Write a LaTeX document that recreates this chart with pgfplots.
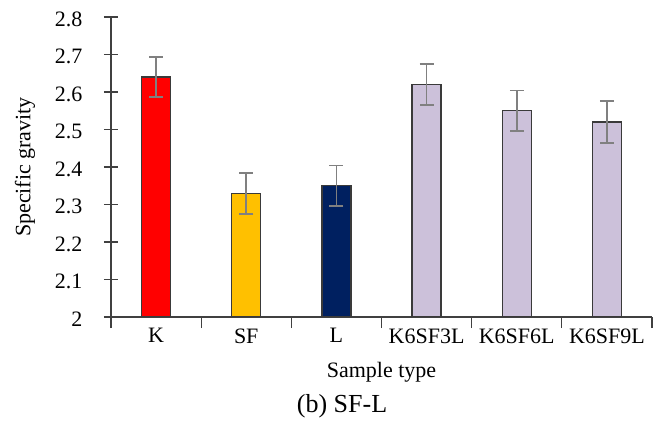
\documentclass[border=0pt]{standalone}
\usepackage{fontspec}
\setmainfont{Liberation Serif}
\usepackage{pgfplots}
\pgfplotsset{compat=1.18}
\definecolor{kred}{HTML}{FF0000}
\definecolor{sfgold}{HTML}{FFC000}
\definecolor{lnavy}{HTML}{002060}
\definecolor{lav}{HTML}{CCC1DA}
\definecolor{axgray}{HTML}{404040}
\definecolor{errgray}{HTML}{808080}
\definecolor{bardraw}{HTML}{3A3A3A}
\newcommand{\bigf}{\fontsize{22bp}{26bp}\selectfont}
\begin{document}
\begin{tikzpicture}[font=\bigf]
\begin{axis}[
  scale only axis, width=541bp, height=300bp,
  xmin=-0.5, xmax=5.5, ymin=2, ymax=2.8,
  axis x line=bottom, axis y line=left,
  axis line style={-, draw=axgray, line width=1.3bp},
  ytick={2,2.1,2.2,2.3,2.4,2.5,2.6,2.7,2.8},
  xtick={0,1,2,3,4,5},
  xticklabels={K,SF,L,K6SF3L,K6SF6L,K6SF9L},
  minor xtick={-0.5,0.5,1.5,2.5,3.5,4.5,5.5},
  tick align=center,
  major tick length=14bp, minor tick length=11bp,
  tick style={draw=axgray, line width=1.3bp},
  major x tick style={draw=none},
  /pgf/number format/assume math mode=true,
  every tick label/.append style={font=\bigf},
  every axis label/.append style={font=\bigf},
  y tick label style={xshift=-18bp, yshift=-2bp},
  x tick label style={yshift=6bp},
  xlabel={Sample type},
  ylabel={Specific gravity},
  x label style={at={(axis description cs:0.5,0)}, anchor=base, yshift=-60bp},
  y label style={at={(axis description cs:-0.159,0.5)}, anchor=center},
  ybar, bar width=29bp, bar shift=0pt,
  every axis plot/.append style={draw=bardraw, line width=1.2bp},
  error bars/y dir=both, error bars/y explicit,
  error bars/error bar style={draw=errgray, line width=1.8bp},
  error bars/error mark options={draw=errgray, line width=1.8bp, mark size=7bp, rotate=90},
]
\addplot[fill=kred] coordinates {(0,2.64) +- (0,0.054)};
\addplot[fill=sfgold] coordinates {(1,2.33) +- (0,0.055)};
\addplot[fill=lnavy] coordinates {(2,2.35) +- (0,0.054)};
\addplot[fill=lav] coordinates {(3,2.62) +- (0,0.054)};
\addplot[fill=lav] coordinates {(4,2.55) +- (0,0.054)};
\addplot[fill=lav] coordinates {(5,2.52) +- (0,0.055)};
\end{axis}
\node[anchor=base, font=\fontsize{26bp}{30bp}\selectfont] at (231bp,-95bp) {(b) SF-L};
\path[use as bounding box] (-111bp,-104bp) rectangle (545bp,317bp);
\end{tikzpicture}
\end{document}
